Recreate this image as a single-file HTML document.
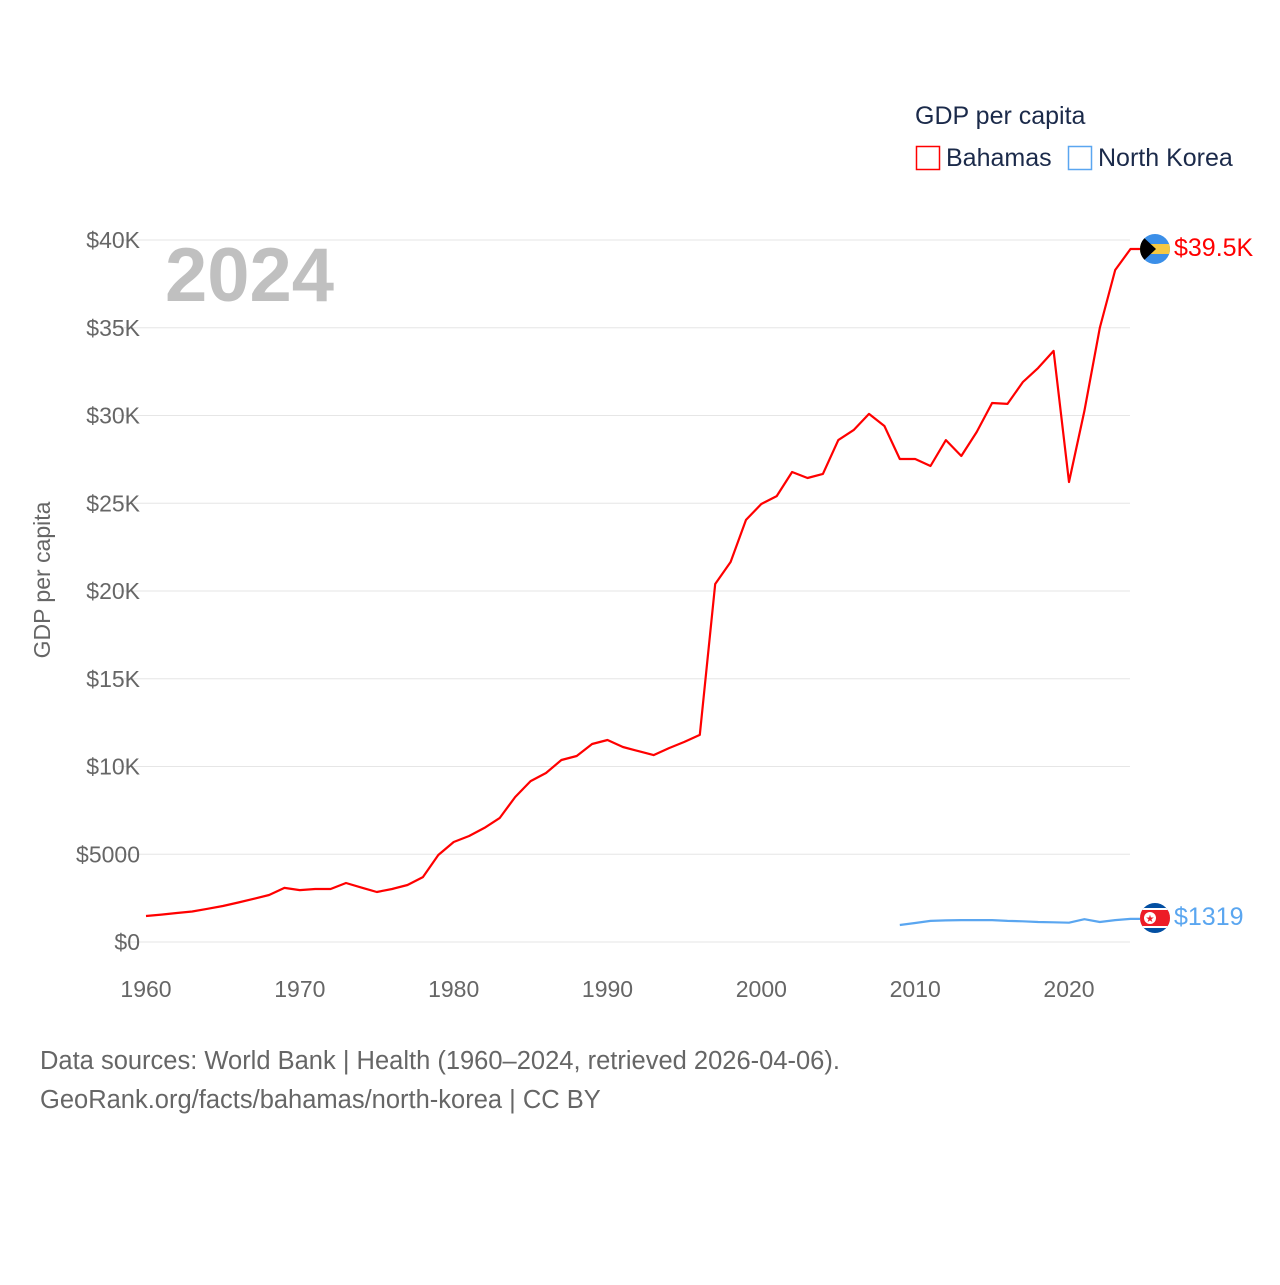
<!DOCTYPE html>
<html><head><meta charset="utf-8"><style>
body{margin:0;background:#fff;font-family:"Liberation Sans",sans-serif}
svg text{font-family:"Liberation Sans",sans-serif}
</style></head><body>
<svg id="c" width="1280" height="1280" xmlns="http://www.w3.org/2000/svg">
<text x="915" y="124" font-size="25" fill="#1b2a4a">GDP per capita</text>
<g><rect x="916.5" y="146.5" width="23" height="23" fill="none" stroke="#ff0000" stroke-width="1.5"/><text x="946" y="166" font-size="25" fill="#1b2a4a">Bahamas</text></g>
<g><rect x="1068.5" y="146.5" width="23" height="23" fill="none" stroke="#5aa6f0" stroke-width="1.5"/><text x="1098" y="166" font-size="25" fill="#1b2a4a">North Korea</text></g>
<text x="165" y="301" font-size="76" font-weight="bold" fill="#c0c0c0">2024</text>
<text transform="translate(50,580) rotate(-90)" text-anchor="middle" font-size="23" fill="#666">GDP per capita</text>
<g id="grid"></g><g id="lines"></g>
<g>
<clipPath id="cb"><circle cx="1155" cy="249" r="15"/></clipPath>
<g clip-path="url(#cb)"><rect x="1140" y="234" width="30" height="30" fill="#3b8fe8"/><rect x="1140" y="244" width="30" height="10" fill="#f5c842"/><polygon points="1140,234 1156,249 1140,264" fill="#000"/></g></g>
<text x="1174" y="256" font-size="25" fill="#ff0000">$39.5K</text>
<g>
<clipPath id="cn"><circle cx="1155" cy="918" r="15"/></clipPath>
<g clip-path="url(#cn)"><rect x="1140" y="903" width="30" height="30" fill="#024fa2"/><rect x="1140" y="908" width="30" height="20" fill="#fff"/><rect x="1140" y="910" width="30" height="16" fill="#ed1c27"/><circle cx="1150" cy="918" r="6" fill="#fff"/><text x="1150" y="922" font-size="10" text-anchor="middle" fill="#ed1c27">★</text></g></g>
<text x="1174" y="925" font-size="25" fill="#5aa6f0">$1319</text>
<text x="40" y="1069" font-size="25.5" fill="#666">Data sources: World Bank | Health (1960–2024, retrieved 2026-04-06).</text>
<text x="40" y="1108" font-size="25.5" fill="#666">GeoRank.org/facts/bahamas/north-korea | CC BY</text>
</svg>
<script>
const years=[];for(let y=1960;y<=2024;y++)years.push(y);
const bahamas=[1480,1560,1650,1740,1890,2050,2250,2460,2680,3080,2960,3020,3020,3360,3100,2850,3020,3250,3700,4960,5700,6040,6500,7070,8260,9170,9630,10370,10600,11280,11510,11110,10880,10650,11050,11400,11800,20400,21650,24050,24960,25410,26780,26440,26670,28600,29170,30090,29400,27520,27520,27120,28600,27690,29060,30710,30660,31910,32710,33680,26210,30260,34990,38290,39490];
const nkYears=[2009,2010,2011,2012,2013,2014,2015,2016,2017,2018,2019,2020,2021,2022,2023,2024];
const northKorea=[970,1080,1200,1230,1250,1250,1250,1200,1180,1140,1120,1100,1300,1140,1250,1319];
const yTicks=[0,5000,10000,15000,20000,25000,30000,35000,40000];
const yTickLabels=["$0","$5000","$10K","$15K","$20K","$25K","$30K","$35K","$40K"];
const xTicks=[1960,1970,1980,1990,2000,2010,2020];
const X=y=>146+(y-1960)*(1069-146)/60;
const Y=v=>942-v*(942-240)/40000;
const NS="http://www.w3.org/2000/svg";
const grid=document.getElementById('grid'),lines=document.getElementById('lines');
function mk(t,a,p){const e=document.createElementNS(NS,t);for(const k in a)e.setAttribute(k,a[k]);p.appendChild(e);return e;}
yTicks.forEach((v,i)=>{
 const l=mk('line',{x1:118,x2:1130,y1:Y(v),y2:Y(v),stroke:'#e6e6e6','stroke-width':1},grid);
 
 
 const t=mk('text',{x:140,y:Y(v)+8,'text-anchor':'end','font-size':23,fill:'#666'},grid);
 t.textContent=yTickLabels[i];
 
 
});
xTicks.forEach(y=>{
 const t=mk('text',{x:X(y),y:997,'text-anchor':'middle','font-size':23,fill:'#666'},grid);
 t.textContent=y;
 
 
});
const pb=mk('path',{d:bahamas.map((v,i)=>(i?'L':'M')+X(years[i]).toFixed(1)+','+Y(v).toFixed(1)).join('')+'h10',fill:'none',stroke:'#ff0000','stroke-width':2.2,'stroke-linejoin':'round'},lines);


const pn=mk('path',{d:northKorea.map((v,i)=>(i?'L':'M')+X(nkYears[i]).toFixed(1)+','+Y(v).toFixed(1)).join('')+'h10',fill:'none',stroke:'#5aa6f0','stroke-width':2.2,'stroke-linejoin':'round'},lines);


</script>
</body></html>
